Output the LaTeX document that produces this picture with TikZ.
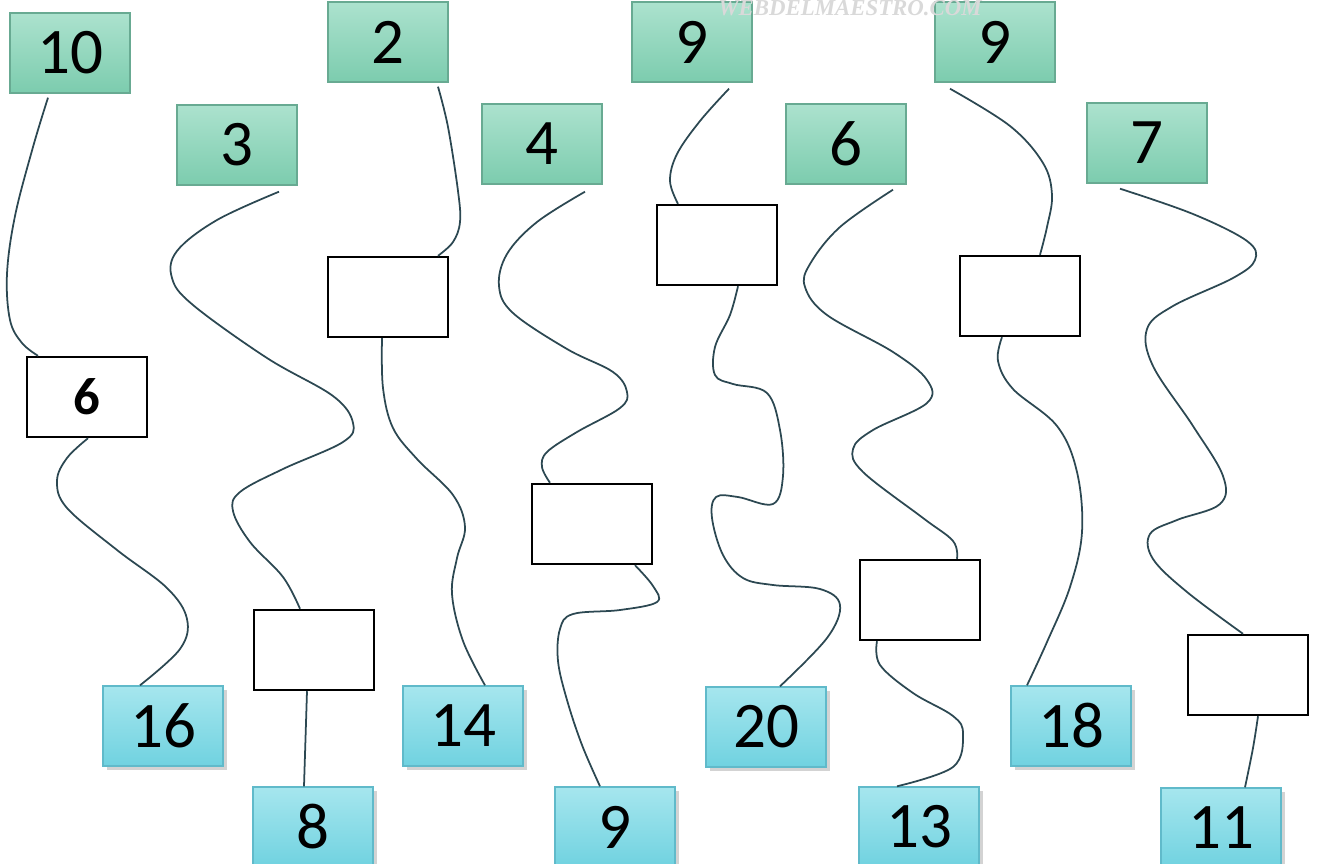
\documentclass[tikz,border=0pt]{standalone}
\usepackage{fontspec}
\setmainfont{Carlito}
\newfontfamily\markfont{Liberation Serif}
\usetikzlibrary{shadows}
\definecolor{GivenTopClr}{RGB}{172,226,206}
\definecolor{GivenBotClr}{RGB}{124,204,174}
\definecolor{GivenLineClr}{RGB}{104,170,146}
\definecolor{SumTopClr}{RGB}{166,230,238}
\definecolor{SumBotClr}{RGB}{112,210,224}
\definecolor{SumLineClr}{RGB}{96,186,202}
\definecolor{WireClr}{RGB}{44,72,82}

\begin{document}
\begin{tikzpicture}[x=0.02cm,y=-0.02cm,
  given/.style={draw=GivenLineClr,line width=0.8pt,top color=GivenTopClr,bottom color=GivenBotClr,
    minimum width=2.4cm,minimum height=1.6cm,inner sep=0pt,font=\fontsize{37}{37}\selectfont},
  total/.style={given,draw=SumLineClr,top color=SumTopClr,bottom color=SumBotClr,
    drop shadow={shadow xshift=2.5pt,shadow yshift=-2.5pt,opacity=0.35}},
  blank/.style={draw=black,line width=1.4pt,fill=white,minimum width=2.4cm,minimum height=1.6cm,inner sep=0pt},
  wire/.style={draw=WireClr,line width=1pt,smooth,tension=0.6}]
\useasboundingbox (0,0) rectangle (1319,863);

\node[given] (g10) at (70,53) {10};
\node[given] (g2) at (388,42) {2};
\node[given] (g9a) at (692,42) {9};
\node[given] (g9b) at (995,42) {9};
\node[given] (g3) at (237,145) {3};
\node[given] (g4) at (542,144) {4};
\node[given] (g6) at (846,144) {6};
\node[given] (g7) at (1147,143) {7};

\node[text=gray!30,font=\markfont\bfseries\itshape\fontsize{13}{13}\selectfont] (mark) at (850,8) {WEBDELMAESTRO.COM};

\node[blank] (w10) at (87,397) {\fontsize{30}{30}\selectfont\rmfamily\bfseries 6};
\node[blank] (w2) at (388,297) {};
\node[blank] (w9a) at (717,245) {};
\node[blank] (w9b) at (1020,296) {};
\node[blank] (w4) at (592,524) {};
\node[blank] (w6) at (920,600) {};
\node[blank] (w3) at (314,650) {};
\node[blank] (w7) at (1248,675) {};

\node[total] (b16) at (163,726) {16};
\node[total] (b14) at (463,726) {14};
\node[total] (b20) at (766,727) {20};
\node[total] (b18) at (1071,726) {18};
\node[total] (b8) at (313,827) {8};
\node[total] (b9) at (615,827) {9};
\node[total] (b13) at (919,827) {13};
\node[total] (b11) at (1221,828) {11};

\draw[wire] plot coordinates {([shift={(-22,4)}]g10.south) (33,147) (15,216) (7,274) (10,320) (22,343) ([shift={(-49,0)}]w10.north)};
\draw[wire] plot coordinates {([shift={(1,0)}]w10.south) (67,458) (57,481) (67,508) (117,550) (167,588) (187,619) (180,649) ([shift={(-23,0)}]b16.north)};

\draw[wire] plot coordinates {([shift={(42,6)}]g3.south) (217,220) (177,251) (172,278) (193,305) (267,358) (333,396) (353,423) (343,442) (283,469) (240,492) (233,511) (250,542) (283,577) ([shift={(-14,0)}]w3.north)};
\draw[wire] ([shift={(-7,0)}]w3.south) -- ([shift={(-9,0)}]b8.north);

\draw[wire] plot coordinates {([shift={(50,4)}]g2.south) (448,127) (458,191) (460,222) (453,242) ([shift={(50,0)}]w2.north)};
\draw[wire] plot coordinates {([shift={(-6,0)}]w2.south) (383,388) (393,428) (417,459) (453,495) (465,527) (457,558) (452,594) (463,641) ([shift={(22,0)}]b14.north)};

\draw[wire] plot coordinates {([shift={(43,7)}]g4.south) (537,222) (507,254) (499,286) (513,313) (567,349) (613,372) (627,392) (620,408) (577,432) (547,452) (542,467) ([shift={(-42,0)}]w4.north)};
\draw[wire] plot coordinates {([shift={(43,0)}]w4.south) (653,586) (657,602) (620,610) (573,614) (560,629) (558,661) (567,700) (582,745) ([shift={(-15,0)}]b9.north)};

\draw[wire] plot coordinates {([shift={(37,6)}]g9a.south) (700,121) (677,154) (670,181) ([shift={(-39,0)}]w9a.north)};
\draw[wire] plot coordinates {([shift={(21,0)}]w9a.south) (730,315) (715,347) (715,375) (733,384) (767,393) (780,430) (783,476) (773,504) (738,497) (716,497) (712,518) (723,555) (743,578) (773,585) (820,589) (840,605) (827,638) ([shift={(14,0)}]b20.north)};

\draw[wire] plot coordinates {([shift={(47,5)}]g6.south) (840,227) (810,264) (805,287) (827,315) (893,352) (927,380) (927,403) (873,430) (853,449) (863,472) (923,518) (953,541) ([shift={(37,0)}]w6.north)};
\draw[wire] plot coordinates {([shift={(-43,0)}]w6.south) (880,665) (913,693) (953,716) (963,734) (953,767) ([shift={(-22,0)}]b13.north)};

\draw[wire] plot coordinates {([shift={(-45,6)}]g9b.south) (1010,126) (1043,163) (1052,195) (1047,227) ([shift={(20,0)}]w9b.north)};
\draw[wire] plot coordinates {([shift={(-18,0)}]w9b.south) (998,361) (1013,389) (1057,426) (1077,472) (1082,532) (1070,587) (1047,642) ([shift={(-44,0)}]b18.north)};

\draw[wire] plot coordinates {([shift={(-27,5)}]g7.south) (1193,214) (1247,241) (1255,260) (1233,278) (1173,306) (1147,329) (1153,366) (1193,426) (1223,476) (1220,504) (1177,520) (1150,534) (1153,559) (1187,592) ([shift={(-5,0)}]w7.north)};
\draw[wire] plot coordinates {([shift={(10,0)}]w7.south) (1253,748) ([shift={(24,0)}]b11.north)};

\end{tikzpicture}
\end{document}
